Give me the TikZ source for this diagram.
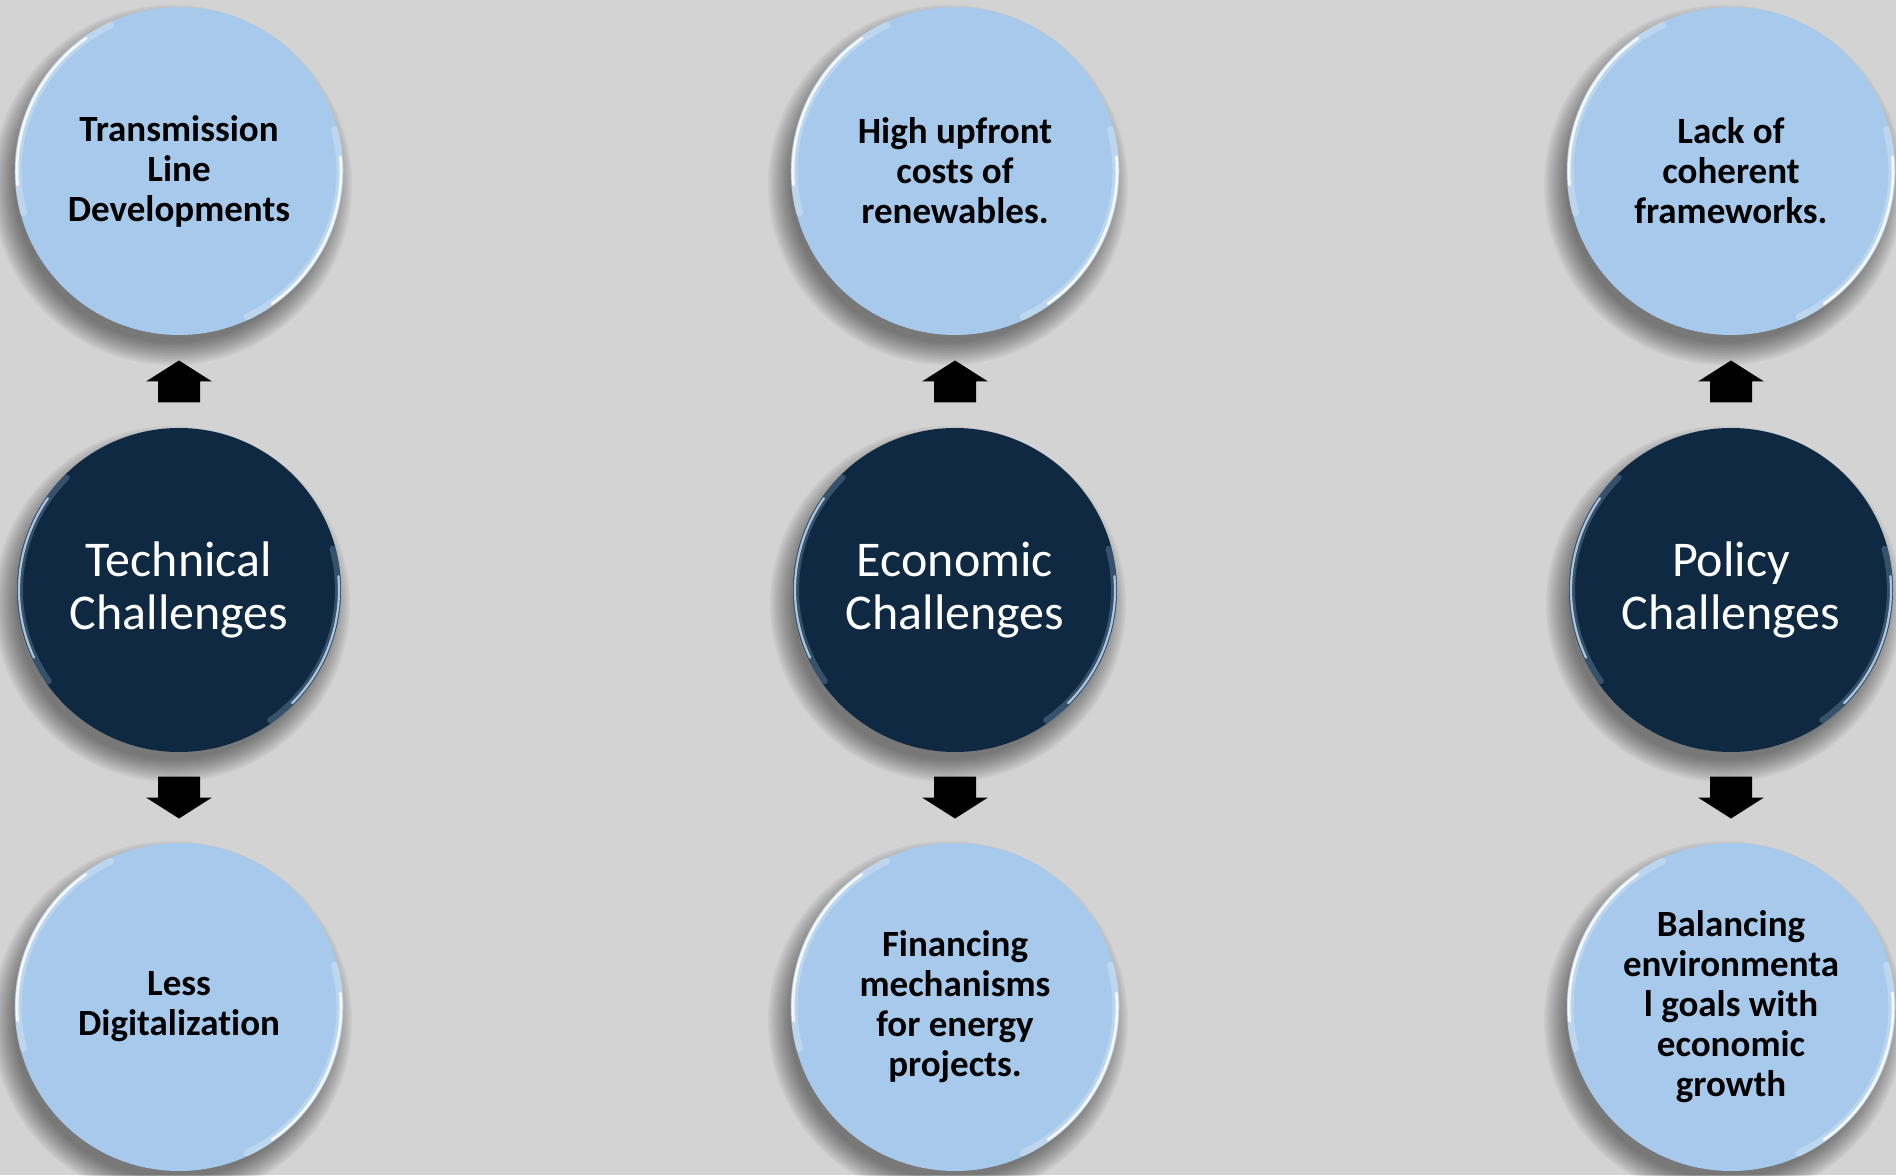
\documentclass[tikz,border=0pt]{standalone}
\usepackage{fontspec}
\setmainfont{Carlito}[Ligatures=NoCommon]
\usetikzlibrary{calc,backgrounds}
\definecolor{bgc}{HTML}{D3D3D3}
\definecolor{lightc}{HTML}{A7C9EB}
\definecolor{darkc}{HTML}{102942}
\tikzset{
 leaf/.style={circle, fill=lightc, minimum size=164pt, inner sep=0pt, align=center,
   font=\bfseries\fontsize{18.5}{20}\selectfont, text=black},
 hub/.style={circle, fill=darkc, minimum size=162pt, inner sep=0pt, align=center,
   font=\fontsize{25}{26.5}\selectfont, text=white},
 blockarrow/.style={fill=black},
 rimlight/.style={white, line width=1.3pt, opacity=0.85, line cap=round},
 rimsoft/.style={white, line width=3.5pt, opacity=0.25, line cap=round},
 rimdark/.style={color=lightc!70!white, line width=1.1pt, opacity=0.85, line cap=round},
 rimdarksoft/.style={color=lightc, line width=3pt, opacity=0.25, line cap=round},
}
\newcommand\softshadow[2]{%
 \foreach \k in {0,...,11}{\fill[black,opacity=0.045] ($(#1.center)+(-7,-14)$) circle[radius=#2+16-2*\k];}}
\newcommand\rimarc[5]{%
 \draw[#5] ($(#1.center)+(#2:#4)$) arc[start angle=#2, end angle=#3, radius=#4];}
\newcommand\arrowup[2]{%
 \fill[blockarrow] ($(#1.north)!0.5!(#2.south)$) ++(-21,-21) -- ++(42,0) -- ++(0,21) -- ++(12,0)
   -- ++(-33,21) -- ++(-33,-21) -- ++(12,0) -- cycle;}
\newcommand\arrowdown[2]{%
 \fill[blockarrow] ($(#1.south)!0.5!(#2.north)$) ++(-21,21) -- ++(42,0) -- ++(0,-21) -- ++(12,0)
   -- ++(-33,-21) -- ++(-33,21) -- ++(12,0) -- cycle;}
\begin{document}
\begin{tikzpicture}[x=0.5pt,y=0.5pt]
\useasboundingbox (0,0) rectangle (1896,1175);
% nodes
\node[leaf] (t1) at (179,1004) {Transmission\\Line\\Developments};
\node[hub]  (c1) at (179,585)  {Technical\\Challenges};
\node[leaf] (b1) at (179,168)  {Less\\Digitalization};
\node[leaf] (t2) at (955,1004) {High upfront\\costs of\\renewables.};
\node[hub]  (c2) at (955,585)  {Economic\\Challenges};
\node[leaf] (b2) at (955,168)  {Financing\\mechanisms\\for energy\\projects.};
\node[leaf] (t3) at (1731,1004) {Lack of\\coherent\\frameworks.};
\node[hub]  (c3) at (1731,585)  {Policy\\Challenges};
\node[leaf] (b3) at (1731,168)  {Balancing\\environmenta\\l goals with\\economic\\growth};
\begin{scope}[on background layer]
 \fill[bgc] (0,0) rectangle (1896,1175);
 \foreach \n in {t1,b1,t2,b2,t3,b3}{\softshadow{\n}{164}}
 \foreach \n in {c1,c2,c3}{\softshadow{\n}{162}}
\end{scope}
% rim highlights
\foreach \n in {t1,b1,t2,b2,t3,b3}{
 \rimarc{\n}{115}{195}{161}{rimsoft}
 \rimarc{\n}{125}{185}{162}{rimlight}
 \rimarc{\n}{-65}{15}{161}{rimsoft}
 \rimarc{\n}{-55}{5}{162}{rimlight}
}
\foreach \n in {c1,c2,c3}{
 \rimarc{\n}{135}{215}{159}{rimdarksoft}
 \rimarc{\n}{145}{205}{160}{rimdark}
 \rimarc{\n}{-55}{15}{159}{rimdarksoft}
 \rimarc{\n}{-45}{5}{160}{rimdark}
}
% block arrows
\arrowup{c1}{t1}
\arrowup{c2}{t2}
\arrowup{c3}{t3}
\arrowdown{c1}{b1}
\arrowdown{c2}{b2}
\arrowdown{c3}{b3}
\end{tikzpicture}
\end{document}
